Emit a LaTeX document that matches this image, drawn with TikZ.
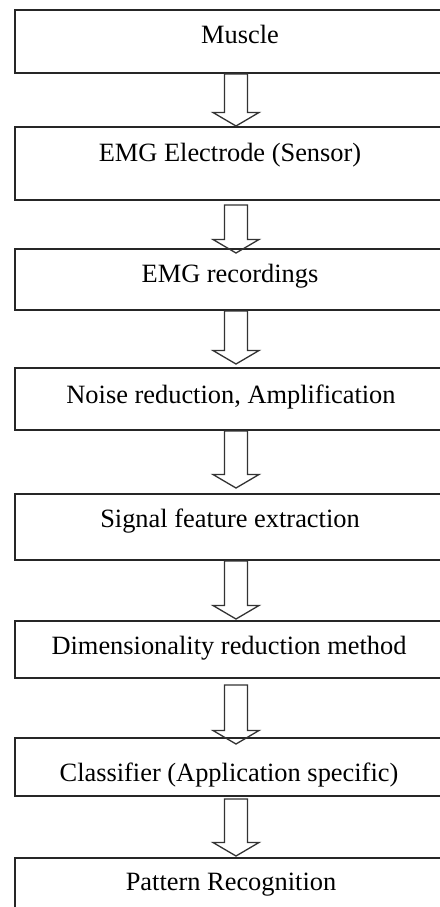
\documentclass[tikz,border=0pt]{standalone}
\usepackage{fontspec}
\setmainfont{Liberation Serif}
\usetikzlibrary{calc}
\tikzset{
  box/.style={draw=black!85, line width=1pt, minimum width=215pt, minimum height=#1*0.5pt, inner sep=0pt},
  lbl/.style={anchor=base, inner sep=0pt, font=\fontsize{13.2}{15}\selectfont},
  hollow/.style={draw=black!80, line width=0.65pt, line join=miter},
}
% hollow block arrow: #1 = top of shaft, #2 = tip
\newcommand{\blockarrow}[2]{%
  \draw[hollow] ($(#1)+(-11.5,0)$) -- ($(#1)+(11.5,0)$) -- ($(#2)+(11.5,-13.5)$)
    -- ($(#2)+(23,-13.5)$) -- (#2) -- ($(#2)+(-23,-13.5)$) -- ($(#2)+(-11.5,-13.5)$) -- cycle;}
\begin{document}
\begin{tikzpicture}[x=0.5pt, y=-0.5pt]
\useasboundingbox (0,0) rectangle (440,907);
\clip (0,0) rectangle (440,907);
\fill[white] (0,0) rectangle (440,907);
% boxes
\node[box=63] (b1) at (230,41.5) {};
\node[box=73] (b2) at (230,163.5) {};
\node[box=61] (b3) at (230,279.5) {};
\node[box=62] (b4) at (230,399) {};
\node[box=66] (b5) at (230,527) {};
\node[box=57] (b6) at (230,649.5) {};
\node[box=58] (b7) at (230,767) {};
\node[box=72] (b8) at (230,894) {};
% texts
\node[lbl] (t1) at (240,43.8) {Muscle};
\node[lbl] (t2) at (230,161.8) {EMG Electrode (Sensor)};
\node[lbl] (t3) at (230,282.8) {EMG recordings};
\node[lbl] (t4) at (231,403.8) {Noise reduction, Amplification};
\node[lbl] (t5) at (230,527.8) {Signal feature extraction};
\node[lbl] (t6) at (229,654.3) {Dimensionality reduction method};
\node[lbl] (t7) at (229,781.8) {Classifier (Application specific)};
\node[lbl] (t8) at (231,890.8) {Pattern Recognition};
% arrows
\foreach \i/\j/\ds/\de in {1/2/0/0, 2/3/4/5, 3/4/0/-3, 4/5/0/-5, 5/6/0/-1, 6/7/6/7, 7/8/2/-1}{
  \coordinate (s) at ($(b\i.south)+(6,\ds)$);
  \coordinate (e) at ($(b\j.north)+(6,\de)$);
  \blockarrow{s}{e}
}
\end{tikzpicture}
\end{document}
